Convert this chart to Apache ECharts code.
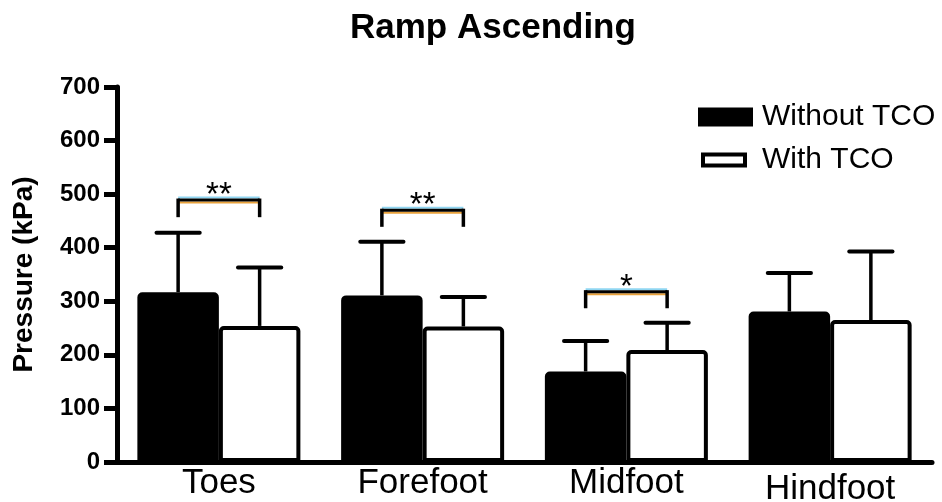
<!DOCTYPE html>
<html>
<head>
<meta charset="utf-8">
<script src="https://cdn.jsdelivr.net/npm/echarts@6/dist/echarts.min.js"></script>
<style>html,body{margin:0;padding:0;background:#fff}#chart{width:942px;height:502px}</style>
</head>
<body>
<div id="chart"></div>
<script>
const categories = ['Toes', 'Forefoot', 'Midfoot', 'Hindfoot'];
const seriesNames = ['Without TCO', 'With TCO'];
const withoutTCO = [317, 311, 169, 281];
const withTCO = [254, 253, 209, 265];
const sdWithout = [111, 100, 57, 72];
const sdWith = [109, 55, 51, 128];
const yTicks = [0, 100, 200, 300, 400, 500, 600, 700];
const sigIndex = [0, 1, 2];
const sigTop = [489, 470, 318];
const sigBottom = [457, 439, 287];
const sigMarks = ['**', '**', '*'];

const FONT = "'Liberation Sans', Arial, sans-serif";
const GAP = 0.2;
const chart = echarts.init(document.getElementById('chart'));

function barWidthPx(api) {
  const band = api.size([1, 0])[0];
  return band * (1 - GAP) / 2;
}

function errorRender(side) {
  return function (params, api) {
    const i = api.value(0);
    const p0 = api.coord([i, api.value(1)]);
    const p1 = api.coord([i, api.value(2)]);
    const bw = barWidthPx(api);
    const x = p0[0] + side * bw / 2;
    const half = bw * 0.265;
    return {
      type: 'group',
      children: [
        { type: 'line', shape: { x1: x, y1: p0[1], x2: x, y2: p1[1] }, style: { stroke: '#000', lineWidth: 3.5 } },
        { type: 'line', shape: { x1: x - half, y1: p1[1], x2: x + half, y2: p1[1] }, style: { stroke: '#000', lineWidth: 4, lineCap: 'round' } }
      ]
    };
  };
}

function sigRender(params, api) {
  const i = api.value(0);
  const pt = api.coord([i, api.value(1)]);
  const pb = api.coord([i, api.value(2)]);
  const bw = barWidthPx(api);
  const x1 = pt[0] - bw / 2, x2 = pt[0] + bw / 2;
  const y = pt[1], yb = pb[1];
  return {
    type: 'group',
    children: [
      { type: 'line', shape: { x1: x1, y1: y - 2.5, x2: x2, y2: y - 2.5 }, style: { stroke: '#8fd6f2', lineWidth: 2 } },
      { type: 'line', shape: { x1: x1, y1: y + 2.5, x2: x2, y2: y + 2.5 }, style: { stroke: '#e9a23b', lineWidth: 2 } },
      { type: 'line', shape: { x1: x1, y1: y, x2: x2, y2: y }, style: { stroke: '#000', lineWidth: 3 } },
      { type: 'line', shape: { x1: x1, y1: y - 1.5, x2: x1, y2: yb }, style: { stroke: '#000', lineWidth: 3.5 } },
      { type: 'line', shape: { x1: x2, y1: y - 1.5, x2: x2, y2: yb }, style: { stroke: '#000', lineWidth: 3.5 } },
      { type: 'text', style: { text: sigMarks[params.dataIndex], x: (x1 + x2) / 2, y: y - 4, align: 'center', verticalAlign: 'middle', font: '33px ' + FONT, fill: '#000' } }
    ]
  };
}

const option = {
  animation: false,
  backgroundColor: '#fff',
  title: {
    text: 'Ramp Ascending',
    left: 345, top: 6,
    textStyle: { fontFamily: FONT, fontWeight: 'bold', fontSize: 35, color: '#000' }
  },
  legend: [
    {
      orient: 'vertical', left: 698, top: 102, padding: 0,
      itemWidth: 55, itemHeight: 19,
      data: [{ name: seriesNames[0], icon: 'rect', itemStyle: { color: '#000', borderWidth: 0 } }],
      textStyle: { fontFamily: FONT, fontSize: 30, color: '#000', padding: [0, 0, 0, 4] }
    },
    {
      orient: 'vertical', left: 701, top: 145, padding: 0,
      itemWidth: 42, itemHeight: 11,
      data: [{ name: seriesNames[1], icon: 'rect', itemStyle: { color: '#fff', borderColor: '#000', borderWidth: 4 } }],
      textStyle: { fontFamily: FONT, fontSize: 30, color: '#000', padding: [0, 0, 0, 12] }
    }
  ],
  grid: { left: 117, right: 10, top: 87, bottom: 40, containLabel: false, outerBoundsMode: 'none' },
  xAxis: {
    type: 'category',
    data: categories.map((c, i) => i === 3 ? { value: c, textStyle: { padding: [6, 0, 0, 0] } } : c),
    axisLine: { lineStyle: { color: '#000', width: 5 } },
    axisTick: { show: false },
    axisLabel: { color: '#000', fontFamily: FONT, fontSize: 35, margin: 4 }
  },
  yAxis: {
    type: 'value', min: yTicks[0], max: yTicks[yTicks.length - 1], interval: 100,
    name: 'Pressure (kPa)', nameLocation: 'middle', nameGap: 79,
    nameTextStyle: { color: '#000', fontFamily: FONT, fontWeight: 'bold', fontSize: 28 },
    axisLine: { show: true, lineStyle: { color: '#000', width: 5 } },
    axisTick: { show: true, length: 13, lineStyle: { color: '#000', width: 5 } },
    axisLabel: { color: '#000', fontFamily: FONT, fontWeight: 'bold', fontSize: 24, margin: 17 },
    splitLine: { show: false }
  },
  series: [
    {
      name: seriesNames[0], type: 'bar', data: withoutTCO,
      barGap: '0%', barCategoryGap: (GAP * 100) + '%',
      itemStyle: { color: '#000', borderColor: '#000', borderWidth: 4, borderRadius: [3, 3, 0, 0] }
    },
    {
      name: seriesNames[1], type: 'bar', data: withTCO,
      barGap: '0%', barCategoryGap: (GAP * 100) + '%',
      itemStyle: { color: '#fff', borderColor: '#000', borderWidth: 4, borderRadius: [3, 3, 0, 0] }
    },
    {
      type: 'custom', renderItem: errorRender(-1), z: 1, silent: true,
      data: withoutTCO.map((v, i) => [i, v, v + sdWithout[i]])
    },
    {
      type: 'custom', renderItem: errorRender(1), z: 1, silent: true,
      data: withTCO.map((v, i) => [i, v, v + sdWith[i]])
    },
    {
      type: 'custom', renderItem: sigRender, z: 3, silent: true,
      data: sigIndex.map((c, k) => [c, sigTop[k], sigBottom[k]])
    }
  ]
};
chart.setOption(option);
</script>
</body>
</html>
